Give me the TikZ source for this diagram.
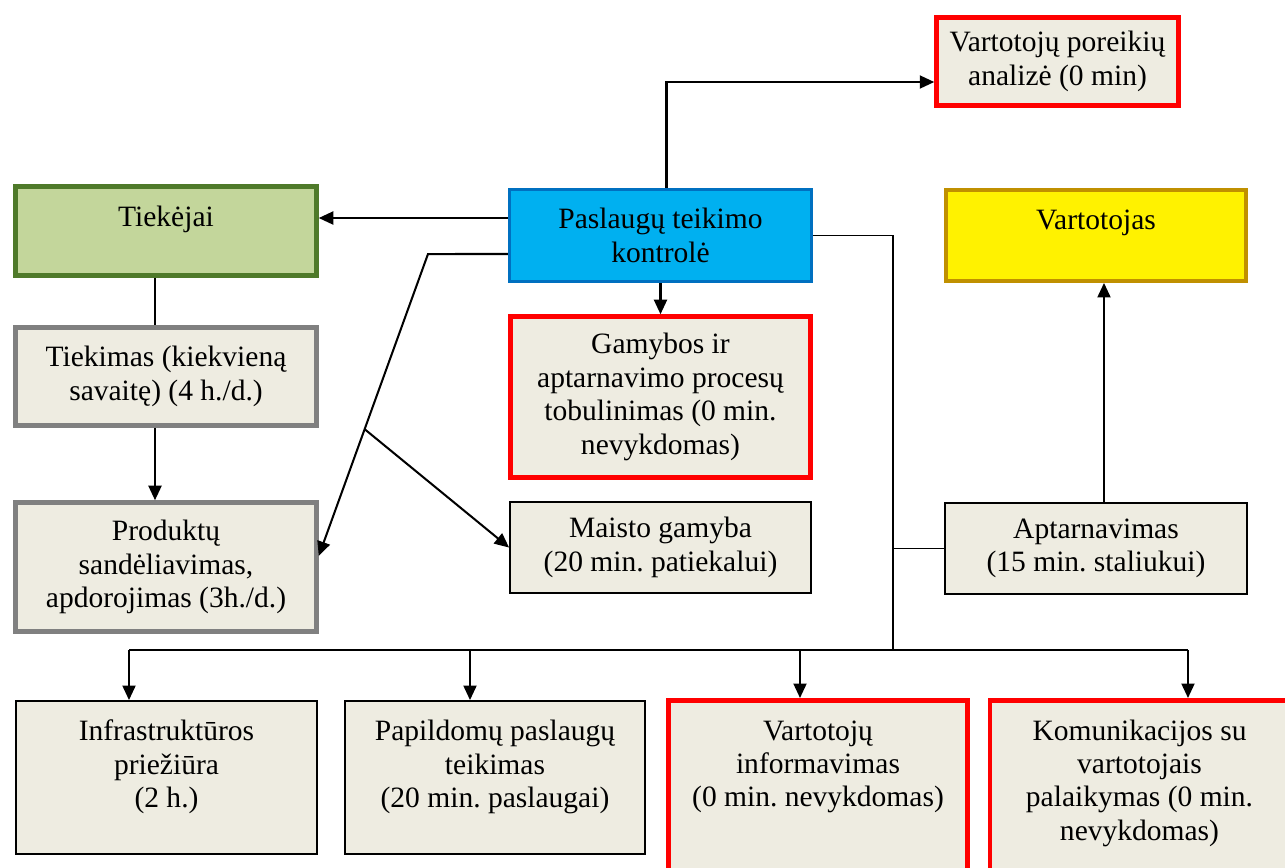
\documentclass[tikz,border=0pt]{standalone}
\usepackage{fontspec}
\setmainfont{Liberation Serif}
\usepackage{xcolor}
\usetikzlibrary{arrows.meta, positioning, calc}

\definecolor{boxbg}{HTML}{EEECE1}
\definecolor{boxred}{HTML}{FF0000}
\definecolor{boxgray}{HTML}{808080}
\definecolor{tgreenfill}{HTML}{C3D69B}
\definecolor{tgreendraw}{HTML}{4F7A2A}
\definecolor{cbluefill}{HTML}{00B0F0}
\definecolor{cbluedraw}{HTML}{0070C0}
\definecolor{vyellowdraw}{HTML}{C09000}

% text set at the top of a fixed-size box
\newcommand{\toptext}[3]{\parbox[c][#1][t]{#2}{\centering\vspace*{0.33cm}\strut#3}}

\begin{document}
\frenchspacing
\begin{tikzpicture}[x=0.02cm, y=-0.02cm,
  base/.style={rectangle, fill=boxbg, align=center, inner sep=2pt,
    font=\fontsize{16.8}{19}\selectfont},
  redbox/.style={base, draw=boxred, line width=2.6pt},
  graybox/.style={base, draw=boxgray, line width=2.6pt},
  plainbox/.style={base, draw=black, line width=1.1pt},
  greenbox/.style={base, draw=tgreendraw, fill=tgreenfill, line width=2.6pt},
  bluebox/.style={base, draw=cbluedraw, fill=cbluefill, line width=1.8pt},
  yellowbox/.style={base, draw=vyellowdraw, fill=yellow, line width=2.2pt},
  arr/.style={-{Triangle[length=2.9mm, width=2.6mm]}, line width=1.15pt},
  conn/.style={line width=1.1pt}
]
\useasboundingbox (0,0) rectangle (1285,867);

%% --- Top row ---
\node[redbox, minimum width=4.84cm, minimum height=1.76cm]
  (needs) at (1057.5,61.5) {Vartotojų poreikių\\analizė (0 min)};
\node[greenbox, inner sep=0pt]
  (suppliers) at (166,231) {\toptext{1.78cm}{6.02cm}{Tiekėjai}};
\node[bluebox, minimum width=6.04cm, minimum height=1.84cm]
  (control) at (660.5,235.5) {Paslaugų teikimo\\kontrolė};
\node[yellowbox, inner sep=0pt]
  (customer) at (1096,235.5) {\toptext{1.82cm}{6.0cm}{Vartotojas}};

%% --- Middle rows ---
\node[graybox, minimum width=6.02cm, minimum height=1.96cm]
  (supply) at (166,376.5) {Tiekimas (kiekvieną\\savaitę) (4 h./d.)};
\node[redbox, minimum width=6.0cm, minimum height=3.22cm]
  (improve) at (660.5,397) {Gamybos ir\\aptarnavimo procesų\\tobulinimas (0 min.\\nevykdomas)};
\node[graybox, minimum width=6.02cm, minimum height=2.58cm]
  (storage) at (166,567) {Produktų\\sandėliavimas,\\apdorojimas (3h./d.)};
\node[plainbox, minimum width=6.02cm, minimum height=1.82cm]
  (food) at (660.5,547.5) {Maisto gamyba\\(20 min. patiekalui)};
\node[plainbox, minimum width=6.04cm, minimum height=1.82cm]
  (service) at (1096,548.5) {Aptarnavimas\\(15 min. staliukui)};

%% --- Bottom row ---
\node[plainbox, inner sep=0pt] (infra) at (166.5,777.5)
  {\toptext{3.06cm}{6.02cm}{Infrastruktūros\\priežiūra\\(2 h.)}};
\node[plainbox, inner sep=0pt] (extra) at (495,777.5)
  {\toptext{3.06cm}{6.0cm}{Papildomų paslaugų\\teikimas\\(20 min. paslaugai)}};
\node[redbox, inner sep=0pt] (inform) at (818,800)
  {\toptext{3.99cm}{5.98cm}{Vartotojų\\informavimas\\(0 min. nevykdomas)}};
\node[redbox, inner sep=0pt] (comm) at (1139.5,800)
  {\toptext{3.99cm}{5.98cm}{Komunikacijos su\\vartotojais\\palaikymas (0 min.\\nevykdomas)}};

\coordinate (kink) at (428,254);
\coordinate (bus) at (893,650);

%% --- From control ---
\draw[arr] ([xshift=0.12cm]control.north) |- ([yshift=-0.41cm]needs.west);
\draw[arr] ([yshift=0.35cm]control.west) -- ([yshift=0.35cm]control.west -| suppliers.east);
\draw[arr] ([yshift=-0.37cm]control.west) -- (kink) -- coordinate[pos=0.58] (fork) ([yshift=0.22cm]storage.east);
\draw[arr] (fork) -- (food.west);
\draw[arr] (control.south) -- (improve.north);
\draw[conn] (control.east) -| (bus);
\draw[conn] (service.west) -- (service.west -| bus);
\draw[arr] ([xshift=0.16cm]service.north) -- ([xshift=0.16cm]service.north |- customer.south);

%% --- Supply chain ---
\draw[conn] ([xshift=-0.22cm]suppliers.south) -- ([xshift=-0.22cm]supply.north);
\draw[arr] ([xshift=-0.22cm]supply.south) -- ([xshift=-0.22cm]storage.north);

%% --- Bus to bottom row ---
\draw[conn] ([xshift=-0.75cm]infra.north |- bus) -- ([xshift=0.97cm]comm.north |- bus);
\draw[arr] ([xshift=-0.75cm]infra.north |- bus) -- ([xshift=-0.75cm]infra.north);
\draw[arr] ([xshift=-0.5cm]extra.north |- bus) -- ([xshift=-0.5cm]extra.north);
\draw[arr] ([xshift=-0.36cm]inform.north |- bus) -- ([xshift=-0.36cm]inform.north);
\draw[arr] ([xshift=0.97cm]comm.north |- bus) -- ([xshift=0.97cm]comm.north);

\end{tikzpicture}
\end{document}
